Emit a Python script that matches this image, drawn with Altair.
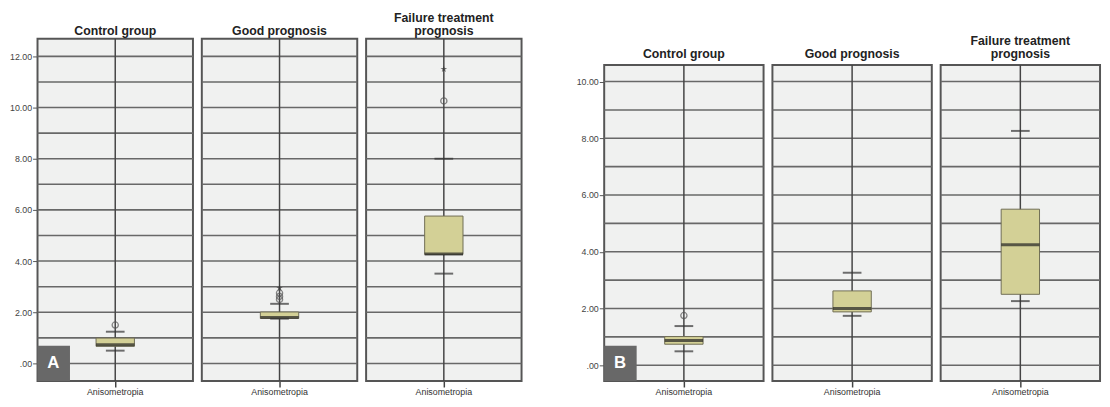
import altair as alt
import pandas as pd

groups = ["Control group", "Good prognosis", "Failure treatment prognosis"]
titles = [["Control group"], ["Good prognosis"], ["Failure treatment", "prognosis"]]
var_label = "Anisometropia"

# Panel A statistics
a_q1 = [0.67, 1.76, 4.26]
a_q3 = [0.99, 2.01, 5.76]
a_med = [0.73, 1.80, 4.28]
a_lo = [0.50, 1.75, 3.51]
a_hi = [1.24, 2.33, 8.00]
a_out_circle = [[1.50], [2.50, 2.62, 2.75], [10.26]]
a_out_star = [[], [2.95], [11.50]]
a_domain = [-0.69, 12.69]      # axis range of panel A
a_frame_top = 12.69
a_grid = [0, 1, 2, 3, 4, 5, 6, 7, 8, 9, 10, 11, 12]
a_ticks = [0, 2, 4, 6, 8, 10, 12]

# Panel B statistics
b_q1 = [0.74, 1.88, 2.50]
b_q3 = [1.01, 2.62, 5.50]
b_med = [0.87, 2.00, 4.25]
b_lo = [0.49, 1.74, 2.26]
b_hi = [1.38, 3.26, 8.26]
b_out_circle = [[1.75], [], []]
b_out_star = [[], [], []]
b_domain = [-0.56, 11.51]      # scale range (plot frame ends at 10.58)
b_frame_top = 10.58
b_grid = [0, 1, 2, 3, 4, 5, 6, 7, 8, 9, 10]
b_ticks = [0, 2, 4, 6, 8, 10]

FONT = "Liberation Sans"
STAR = ("M0,-1L0.22,-0.31L0.95,-0.31L0.36,0.12L0.59,0.81L0,0.38"
        "L-0.59,0.81L-0.36,0.12L-0.95,-0.31L-0.22,-0.31Z")
GRID_COLOR = "#686868"


def make_panel(i, q1, q3, med, lo, hi, oc, os_, domain, frame_top, grid, ticks,
               width, height, min_extent, letter, title_mode):
    if i == 0:
        yaxis = alt.Axis(values=ticks, title=None, grid=False, domain=False,
                         tickSize=5, tickColor="#555555", tickWidth=1,
                         labelFontSize=9, labelColor="#444444", labelPadding=1,
                         labelFont=FONT, minExtent=min_extent,
                         labelExpr="datum.value == 0 ? '.00' : format(datum.value, '.2f')")
    else:
        yaxis = None
    yscale = alt.Scale(domain=domain, nice=False, zero=False)

    def Y(field):
        return alt.Y(field, type="quantitative", scale=yscale, axis=yaxis)

    X = alt.X("variable:N", title=None,
              axis=alt.Axis(domain=False, ticks=True, tickSize=6, tickColor="#444444",
                            tickWidth=1.5, labelAngle=0, labelFontSize=9, grid=False,
                            labelColor="#333333", labelPadding=1, labelFont=FONT))

    frame = pd.DataFrame({"variable": [var_label], "bottom": [domain[0]],
                          "top": [frame_top]})
    box = pd.DataFrame({"variable": [var_label], "q1": [q1[i]], "q3": [q3[i]],
                        "med": [med[i]]})
    caps = pd.DataFrame({"variable": [var_label, var_label], "v": [lo[i], hi[i]]})
    gdf = pd.DataFrame({"g": grid})

    layers = []
    layers.append(alt.Chart(frame).mark_rect(fill="#F0F1F0", stroke="#555555",
                                             strokeWidth=2).encode(
        x=alt.value(0), x2=alt.value(width), y=Y("bottom"), y2="top"))
    if letter:
        layers.append(alt.Chart(box).mark_rect(color="#686868").encode(
            x=alt.value(0), x2=alt.value(33),
            y=alt.value(height - 36), y2=alt.value(height)))
    layers.append(alt.Chart(gdf).mark_rule(color=GRID_COLOR, strokeWidth=1.6).encode(
        y=Y("g")))
    layers.append(alt.Chart(frame).mark_rule(color="#444444", strokeWidth=1.5).encode(
        x=X, y=Y("bottom"), y2="top"))
    layers.append(alt.Chart(box).mark_bar(size=39, fill="#D3D096", stroke="#6f6d55",
                                          strokeWidth=1).encode(
        x=X, y=Y("q1"), y2="q3"))
    layers.append(alt.Chart(box).mark_tick(color="#222222", thickness=3, size=39).encode(
        x=X, y=Y("med")))
    layers.append(alt.Chart(caps).mark_tick(color="#333333", thickness=2, size=19).encode(
        x=X, y=Y("v")))
    if oc[i]:
        odf = pd.DataFrame({"variable": [var_label] * len(oc[i]), "o": oc[i]})
        layers.append(alt.Chart(odf).mark_point(shape="circle", filled=False,
                                                color="#555555", size=40,
                                                strokeWidth=1.3).encode(
            x=X, y=Y("o")))
    if os_[i]:
        sdf = pd.DataFrame({"variable": [var_label] * len(os_[i]), "s": os_[i]})
        layers.append(alt.Chart(sdf).mark_point(shape=STAR, filled=True,
                                                color="#333333", size=50).encode(
            x=X, y=Y("s")))
    if letter:
        layers.append(alt.Chart(box).mark_text(text=letter, fontSize=17,
                                               fontWeight="bold", color="white",
                                               font=FONT).encode(
            x=alt.value(16), y=alt.value(height - 18)))

    lines = titles[i]
    props = dict(width=width, height=height,
                 view=alt.ViewBackground(fill="transparent", stroke="transparent"))
    if title_mode == "title":
        text = [" "] * (2 - len(lines)) + lines
        props["title"] = alt.TitleParams(text=text, fontSize=12.5, fontWeight="bold",
                                         font=FONT, color="#222222", anchor="middle",
                                         lineHeight=13.5, offset=0)
    else:
        ys = [16] if len(lines) == 1 else [2, 16]
        for line, yy in zip(lines, ys):
            layers.append(alt.Chart(box).mark_text(text=line, fontSize=12.5,
                                                   fontWeight="bold", color="#222222",
                                                   font=FONT, baseline="middle").encode(
                x=alt.value(width / 2), y=alt.value(yy)))
    return alt.layer(*layers).properties(**props)


panels_a = [make_panel(i, a_q1, a_q3, a_med, a_lo, a_hi, a_out_circle, a_out_star,
                       a_domain, a_frame_top, a_grid, a_ticks, 158, 348, 28,
                       "A" if i == 0 else None, "title") for i in range(3)]
panels_b = [make_panel(i, b_q1, b_q3, b_med, b_lo, b_hi, b_out_circle, b_out_star,
                       b_domain, b_frame_top, b_grid, b_ticks, 162, 348, 76,
                       "B" if i == 0 else None, "text") for i in range(3)]

chart = alt.hconcat(*panels_a, *panels_b, spacing=5).properties(
    padding=0
).configure_view(
    stroke="transparent", fill="transparent"
)

chart.save("out.html", embed_options={"renderer": "svg", "actions": False})
